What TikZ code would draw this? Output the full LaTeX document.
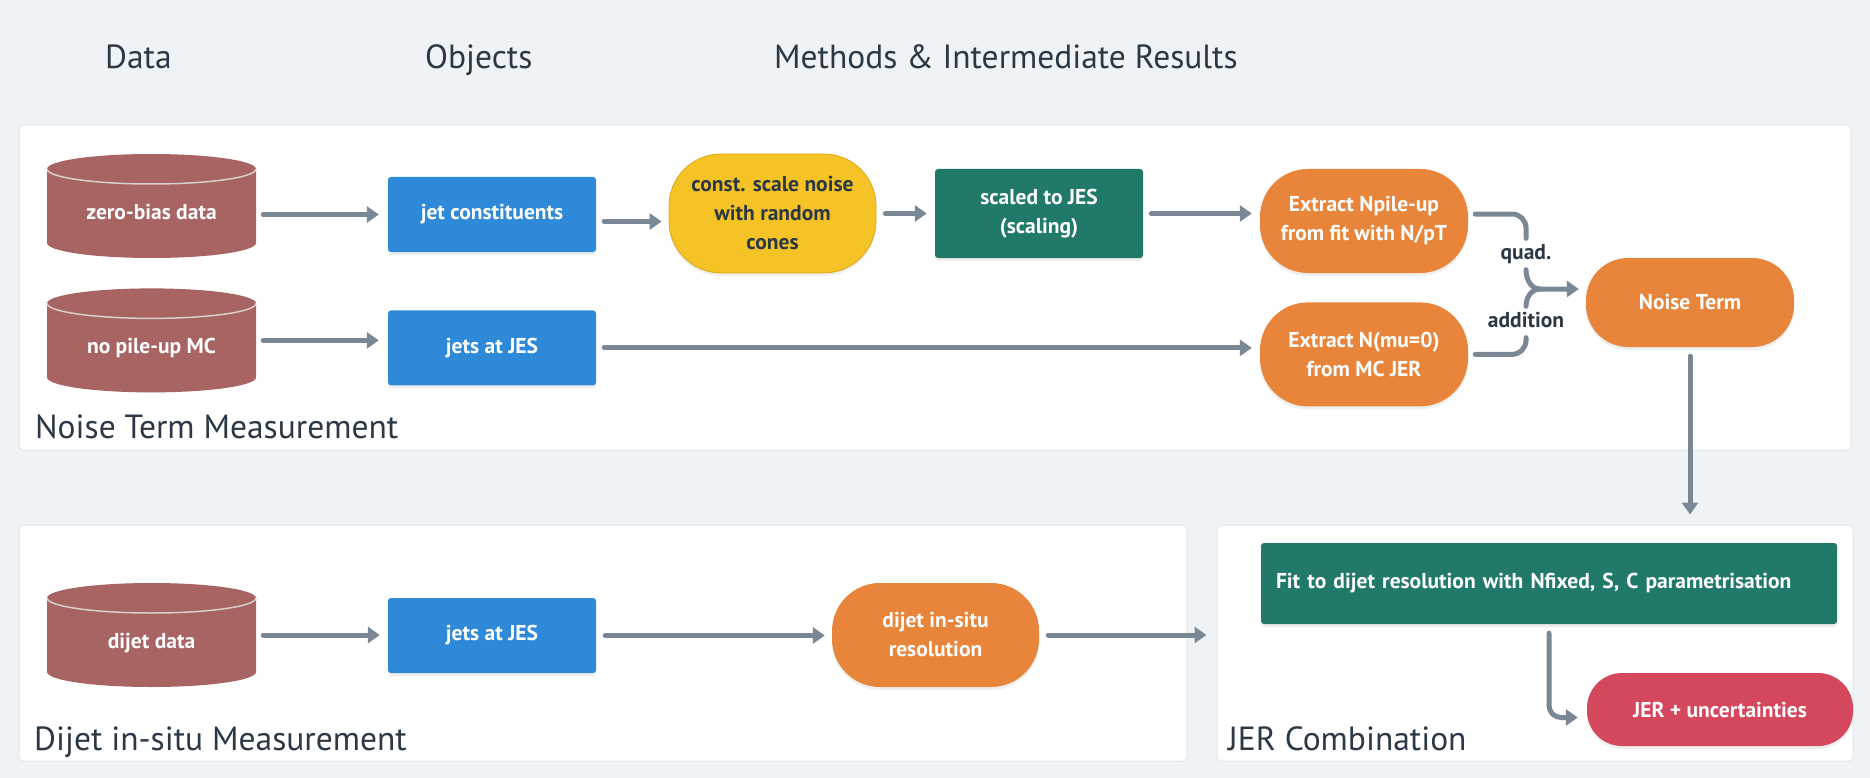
\documentclass[tikz,border=0pt]{standalone}
\usepackage{fontspec}
\setmainfont{PT Sans}
\usetikzlibrary{positioning,calc,arrows.meta,shadows}
\definecolor{bgcol}{HTML}{F0F3F6}
\definecolor{panelline}{HTML}{E2E6EA}
\definecolor{ink}{HTML}{2B3846}
\definecolor{wire}{HTML}{7A8896}
\definecolor{drumcol}{HTML}{A86363}
\definecolor{rimcol}{HTML}{D9CFCF}
\definecolor{jetblue}{HTML}{2F89D9}
\definecolor{noiseyellow}{HTML}{F5C325}
\definecolor{yellowedge}{HTML}{DDAA1C}
\definecolor{fitgreen}{HTML}{21796A}
\definecolor{resorange}{HTML}{E8853B}
\definecolor{jerred}{HTML}{D4475D}

\begin{document}
\begin{tikzpicture}[x=1pt,y=1pt,
		txt/.style={font=\fontsize{21.5}{29}\selectfont\bfseries,align=center,inner sep=0pt},
		panel/.style={draw=panelline,line width=1pt,fill=white,rounded corners=4pt,inner sep=0pt},
		head/.style={font=\fontsize{33.5}{40}\selectfont,text=ink,inner sep=0pt,anchor=base west},
		soft/.style={drop shadow={shadow xshift=0pt,shadow yshift=-3pt,opacity=.12}},
		drum/.style={txt,text=white,minimum width=209pt,minimum height=104pt,text height=30pt,text depth=4pt,
			path picture={
				\fill[drumcol] ([yshift=-15pt]path picture bounding box.north west) -- ([yshift=15pt]path picture bounding box.south west)
					arc[start angle=180,end angle=360,x radius=104.5pt,y radius=15pt]
					-- ([yshift=-15pt]path picture bounding box.north east)
					arc[start angle=0,end angle=180,x radius=104.5pt,y radius=15pt] -- cycle;
				\draw[rimcol,line width=1.5pt] ([yshift=-15pt]path picture bounding box.north west)
					arc[start angle=180,end angle=360,x radius=104.5pt,y radius=15pt];
			}},
		blk/.style={txt,text=white,fill=#1,rounded corners=3pt,minimum width=208pt,minimum height=75pt,soft},
		pill/.style 2 args={txt,text=white,fill=#1,rounded corners=#2,minimum width=208pt,minimum height=104pt,soft},
		tag/.style={font=\fontsize{21.5}{24}\selectfont\bfseries,text=ink,inner xsep=0pt,inner ysep=6.5pt,text height=14pt,text depth=4pt},
		conn/.style={draw=wire,line width=5pt,line cap=round},
		flow/.style={conn,-{Triangle[length=12pt,width=16pt]}},
	]
	\fill[bgcol] (0,0) rectangle (1870,-778);
	\useasboundingbox (0,0) rectangle (1870,-778);
	%
	\node[head] (hdata) at (105,-69) {Data};
	\node[head] (hobj) at (425,-69) {Objects};
	\node[head] (hmeth) at (774,-69) {Methods \& Intermediate Results};
	%
	\node[panel,minimum width=1832pt,minimum height=325pt] (pnoise) at (935,-287.5) {};
	\node[panel,minimum width=1168pt,minimum height=236pt] (pdijet) at (603,-643) {};
	\node[panel,minimum width=636pt,minimum height=236pt] (pjer) at (1535,-643) {};
	\node[head] (lnoise) at (35,-438) {Noise Term Measurement};
	\node[head] (ldijet) at (34,-750) {Dijet in-situ Measurement};
	\node[head] (ljer) at (1228,-750) {JER Combination};
	%
	\node[drum] (zb) at (151.5,-206) {zero-bias data};
	\node[drum,below=30pt of zb] (mc) {no pile-up MC};
	\node[drum] (dd) at (151.5,-635) {dijet data};
	%
	\node[blk=jetblue] (jc) at (492,-214.5) {jet constituents};
	\node[blk=jetblue,below=58pt of jc] (jm) {jets at JES};
	\node[blk=jetblue] (jd) at (492,-635.5) {jets at JES};
	%
	\node[pill={noiseyellow}{52pt},text=ink,draw=yellowedge,line width=.8pt,minimum width=207pt,minimum height=119pt] (rc) at (772.5,-213.5) {const. scale noise\\with random\\cones};
	\node[blk=fitgreen,minimum height=89pt] (sj) at (1039,-213.5) {scaled to JES\\(scaling)};
	\node[pill={resorange}{48pt}] (pu) at (1364,-221) {Extract Npile-up\\from fit with N/pT};
	\node[pill={resorange}{48pt},below=29pt of pu] (nm) {Extract N(mu=0)\\from MC JER};
	\node[pill={resorange}{42pt},minimum height=89pt] (nt) at (1690,-302.5) {Noise Term};
	\node[pill={resorange}{48pt},minimum width=207pt] (ds) at (935.5,-635) {dijet in-situ\\resolution};
	%
	\node[blk=fitgreen,minimum width=576pt,minimum height=81pt,text width=546pt,align=left,inner xsep=15pt] (fit) at (1549,-583.5) {Fit to dijet resolution with Nfixed, S, C parametrisation};
	\node[pill={jerred}{35pt},minimum width=266pt,minimum height=73pt] (jer) at (1720,-709.5) {JER + uncertainties};
	%
	\node[tag] (quad) at (1526,-254) {quad.};
	\node[tag] (add) at (1526,-322) {addition};
	\coordinate (mj) at (1540,-289);
	%
	\draw[flow,shorten <=7pt,shorten >=9pt] (zb.east |- jc) -- (jc.west);
	\draw[flow,shorten <=7pt,shorten >=9pt] (mc.east) -- (mc.east -| jm.west);
	\draw[flow,shorten <=8pt,shorten >=7pt] ([yshift=-7pt]jc.east) -- ([yshift=-7pt]jc.east -| rc.west);
	\draw[flow,shorten <=9pt,shorten >=8pt] (rc.east) -- (rc.east -| sj.west);
	\draw[flow,shorten <=8pt,shorten >=8pt] (sj.east) -- (sj.east -| pu.west);
	\draw[flow,shorten <=8pt,shorten >=8pt] (jm.east) -- (jm.east -| nm.west);
	%
	\draw[conn,rounded corners=14pt,shorten <=7pt] ([yshift=7pt]pu.east) -| (quad.north);
	\draw[flow,shorten >=7pt] (quad.south) to[out=-90,in=180] (mj) -- (mj -| nt.west);
	\draw[conn] (add.north) to[out=90,in=180] (mj);
	\draw[conn,rounded corners=14pt,shorten >=7pt] (add.south) |- (nm.east);
	\draw[flow,shorten <=9pt,shorten >=10pt] (nt.south) -- (nt.south |- pjer.north);
	%
	\draw[flow,shorten <=7pt,shorten >=8pt] (dd.east) -- (dd.east -| jd.west);
	\draw[flow,shorten <=9pt,shorten >=7pt] (jd.east) -- (jd.east -| ds.west);
	\draw[flow,shorten <=9pt,shorten >=10pt] (ds.east) -- (ds.east -| pjer.west);
	\draw[flow,rounded corners=12pt,shorten <=9pt,shorten >=9pt] (fit.south) |- ([yshift=-8pt]jer.west);
\end{tikzpicture}
\end{document}
